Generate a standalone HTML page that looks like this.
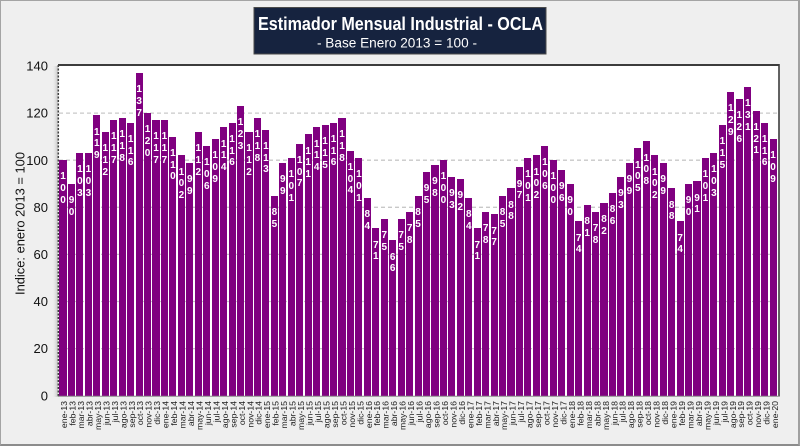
<!DOCTYPE html>
<html><head><meta charset="utf-8">
<style>
html,body{margin:0;padding:0}
body{width:800px;height:446px;overflow:hidden;background:#efefef;position:relative;font-family:"Liberation Sans",sans-serif}
#frame{position:absolute;left:0;top:0;width:800px;height:446px;box-sizing:border-box;border:1px solid #a4a4a4;border-bottom:2px solid #8c8c8c;border-right:2px solid #a0a0a0}
svg{position:absolute;left:0;top:0}
#plot{position:absolute;left:58.8px;top:66px;width:719.5px;height:329.7px;display:flex;align-items:flex-end}
.c{flex:0 0 8.465px;height:100%;display:flex;align-items:flex-end;justify-content:center}
.b{width:7.1px;flex:0 0 7.1px;height:calc(var(--v) * 2.355px);background:#800080;position:relative}
.b span{position:absolute;left:-1px;width:9.1px;top:11.3px;color:#fff;font:bold 10px/11.7px "Liberation Sans",sans-serif;text-align:center;word-break:break-all}
</style></head><body>
<div id="frame"></div>
<svg width="800" height="446">
<defs><linearGradient id="sh" x1="0" x2="1" y1="0" y2="0"><stop offset="0" stop-color="#efefef" stop-opacity="0"/><stop offset="1" stop-color="#b8b8b8"/></linearGradient></defs>
<rect x="52" y="66" width="6.5" height="331" fill="url(#sh)"/>
<rect x="58.3" y="65" width="720.7" height="331" fill="#ffffff"/>
<g stroke="#c8c8c8" stroke-width="1.3" stroke-dasharray="4,3">
<line x1="59" x2="778" y1="113.1" y2="113.1"/>
<line x1="59" x2="778" y1="160.2" y2="160.2"/>
<line x1="59" x2="778" y1="207.3" y2="207.3"/>
<line x1="59" x2="778" y1="254.4" y2="254.4"/>
<line x1="59" x2="778" y1="301.5" y2="301.5"/>
<line x1="59" x2="778" y1="348.6" y2="348.6"/>
</g>
</svg>
<div id="plot">
<div class="c"><div class="b" style="--v:100"><span>100</span></div></div>
<div class="c"><div class="b" style="--v:90"><span>90</span></div></div>
<div class="c"><div class="b" style="--v:103"><span>103</span></div></div>
<div class="c"><div class="b" style="--v:103"><span>103</span></div></div>
<div class="c"><div class="b" style="--v:119"><span>119</span></div></div>
<div class="c"><div class="b" style="--v:112"><span>112</span></div></div>
<div class="c"><div class="b" style="--v:117"><span>117</span></div></div>
<div class="c"><div class="b" style="--v:118"><span>118</span></div></div>
<div class="c"><div class="b" style="--v:116"><span>116</span></div></div>
<div class="c"><div class="b" style="--v:137"><span>137</span></div></div>
<div class="c"><div class="b" style="--v:120"><span>120</span></div></div>
<div class="c"><div class="b" style="--v:117"><span>117</span></div></div>
<div class="c"><div class="b" style="--v:117"><span>117</span></div></div>
<div class="c"><div class="b" style="--v:110"><span>110</span></div></div>
<div class="c"><div class="b" style="--v:102"><span>102</span></div></div>
<div class="c"><div class="b" style="--v:99"><span>99</span></div></div>
<div class="c"><div class="b" style="--v:112"><span>112</span></div></div>
<div class="c"><div class="b" style="--v:106"><span>106</span></div></div>
<div class="c"><div class="b" style="--v:109"><span>109</span></div></div>
<div class="c"><div class="b" style="--v:114"><span>114</span></div></div>
<div class="c"><div class="b" style="--v:116"><span>116</span></div></div>
<div class="c"><div class="b" style="--v:123"><span>123</span></div></div>
<div class="c"><div class="b" style="--v:112"><span>112</span></div></div>
<div class="c"><div class="b" style="--v:118"><span>118</span></div></div>
<div class="c"><div class="b" style="--v:113"><span>113</span></div></div>
<div class="c"><div class="b" style="--v:85"><span>85</span></div></div>
<div class="c"><div class="b" style="--v:99"><span>99</span></div></div>
<div class="c"><div class="b" style="--v:101"><span>101</span></div></div>
<div class="c"><div class="b" style="--v:107"><span>107</span></div></div>
<div class="c"><div class="b" style="--v:111"><span>111</span></div></div>
<div class="c"><div class="b" style="--v:114"><span>114</span></div></div>
<div class="c"><div class="b" style="--v:115"><span>115</span></div></div>
<div class="c"><div class="b" style="--v:116"><span>116</span></div></div>
<div class="c"><div class="b" style="--v:118"><span>118</span></div></div>
<div class="c"><div class="b" style="--v:104"><span>104</span></div></div>
<div class="c"><div class="b" style="--v:101"><span>101</span></div></div>
<div class="c"><div class="b" style="--v:84"><span>84</span></div></div>
<div class="c"><div class="b" style="--v:71"><span>71</span></div></div>
<div class="c"><div class="b" style="--v:75"><span>75</span></div></div>
<div class="c"><div class="b" style="--v:66"><span>66</span></div></div>
<div class="c"><div class="b" style="--v:75"><span>75</span></div></div>
<div class="c"><div class="b" style="--v:78"><span>78</span></div></div>
<div class="c"><div class="b" style="--v:85"><span>85</span></div></div>
<div class="c"><div class="b" style="--v:95"><span>95</span></div></div>
<div class="c"><div class="b" style="--v:98"><span>98</span></div></div>
<div class="c"><div class="b" style="--v:100"><span>100</span></div></div>
<div class="c"><div class="b" style="--v:93"><span>93</span></div></div>
<div class="c"><div class="b" style="--v:92"><span>92</span></div></div>
<div class="c"><div class="b" style="--v:84"><span>84</span></div></div>
<div class="c"><div class="b" style="--v:71"><span>71</span></div></div>
<div class="c"><div class="b" style="--v:78"><span>78</span></div></div>
<div class="c"><div class="b" style="--v:77"><span>77</span></div></div>
<div class="c"><div class="b" style="--v:85"><span>85</span></div></div>
<div class="c"><div class="b" style="--v:88"><span>88</span></div></div>
<div class="c"><div class="b" style="--v:97"><span>97</span></div></div>
<div class="c"><div class="b" style="--v:101"><span>101</span></div></div>
<div class="c"><div class="b" style="--v:102"><span>102</span></div></div>
<div class="c"><div class="b" style="--v:106"><span>106</span></div></div>
<div class="c"><div class="b" style="--v:100"><span>100</span></div></div>
<div class="c"><div class="b" style="--v:96"><span>96</span></div></div>
<div class="c"><div class="b" style="--v:90"><span>90</span></div></div>
<div class="c"><div class="b" style="--v:74"><span>74</span></div></div>
<div class="c"><div class="b" style="--v:81"><span>81</span></div></div>
<div class="c"><div class="b" style="--v:78"><span>78</span></div></div>
<div class="c"><div class="b" style="--v:82"><span>82</span></div></div>
<div class="c"><div class="b" style="--v:86"><span>86</span></div></div>
<div class="c"><div class="b" style="--v:93"><span>93</span></div></div>
<div class="c"><div class="b" style="--v:99"><span>99</span></div></div>
<div class="c"><div class="b" style="--v:105"><span>105</span></div></div>
<div class="c"><div class="b" style="--v:108"><span>108</span></div></div>
<div class="c"><div class="b" style="--v:102"><span>102</span></div></div>
<div class="c"><div class="b" style="--v:99"><span>99</span></div></div>
<div class="c"><div class="b" style="--v:88"><span>88</span></div></div>
<div class="c"><div class="b" style="--v:74"><span>74</span></div></div>
<div class="c"><div class="b" style="--v:90"><span>90</span></div></div>
<div class="c"><div class="b" style="--v:91"><span>91</span></div></div>
<div class="c"><div class="b" style="--v:101"><span>101</span></div></div>
<div class="c"><div class="b" style="--v:103"><span>103</span></div></div>
<div class="c"><div class="b" style="--v:115"><span>115</span></div></div>
<div class="c"><div class="b" style="--v:129"><span>129</span></div></div>
<div class="c"><div class="b" style="--v:126"><span>126</span></div></div>
<div class="c"><div class="b" style="--v:131"><span>131</span></div></div>
<div class="c"><div class="b" style="--v:121"><span>121</span></div></div>
<div class="c"><div class="b" style="--v:116"><span>116</span></div></div>
<div class="c"><div class="b" style="--v:109"><span>109</span></div></div>
</div>
<svg width="800" height="446">
<line x1="58" x2="779.5" y1="65" y2="65" stroke="#3c3c3c" stroke-width="2"/>
<line x1="779" x2="779" y1="64" y2="396.5" stroke="#3c3c3c" stroke-width="1.6"/>
<line x1="58.3" x2="58.3" y1="65" y2="396.5" stroke="#404040" stroke-width="1.5" stroke-dasharray="2,1.5"/>
<line x1="58" x2="779" y1="396.2" y2="396.2" stroke="#8a8a8a" stroke-width="1"/>
<g font-family="Liberation Sans, sans-serif" font-size="13" fill="#111" text-anchor="end">
<text x="48" y="70.6">140</text>
<text x="48" y="117.7">120</text>
<text x="48" y="164.8">100</text>
<text x="48" y="211.9">80</text>
<text x="48" y="259">60</text>
<text x="48" y="306.1">40</text>
<text x="48" y="353.2">20</text>
<text x="48" y="400.3">0</text>
</g>
<text transform="translate(24.5,223.5) rotate(-90)" text-anchor="middle" font-family="Liberation Sans, sans-serif" font-size="13" fill="#111" textLength="143" lengthAdjust="spacingAndGlyphs">Indice: enero 2013 = 100</text>
<rect x="254" y="7.5" width="292" height="46.5" fill="#16233f" stroke="#4a4a4a" stroke-width="1"/>
<text x="400.5" y="30" text-anchor="middle" font-family="Liberation Sans, sans-serif" font-weight="bold" font-size="18" fill="#ffffff" textLength="285" lengthAdjust="spacingAndGlyphs">Estimador Mensual Industrial - OCLA</text>
<text x="397" y="47.7" text-anchor="middle" font-family="Liberation Sans, sans-serif" font-size="13.5" fill="#ffffff" textLength="160" lengthAdjust="spacingAndGlyphs">- Base Enero 2013 = 100 -</text>
<g transform="translate(67.03,401)" font-family="Liberation Sans, sans-serif" font-size="8.7" fill="#1a1a1a" text-anchor="end">
<text transform="translate(0,0) rotate(-90)">ene-13</text>
<text transform="translate(8.47,0) rotate(-90)">feb-13</text>
<text transform="translate(16.93,0) rotate(-90)">mar-13</text>
<text transform="translate(25.4,0) rotate(-90)">abr-13</text>
<text transform="translate(33.86,0) rotate(-90)">may-13</text>
<text transform="translate(42.33,0) rotate(-90)">jun-13</text>
<text transform="translate(50.79,0) rotate(-90)">jul-13</text>
<text transform="translate(59.26,0) rotate(-90)">ago-13</text>
<text transform="translate(67.72,0) rotate(-90)">sep-13</text>
<text transform="translate(76.19,0) rotate(-90)">oct-13</text>
<text transform="translate(84.65,0) rotate(-90)">nov-13</text>
<text transform="translate(93.12,0) rotate(-90)">dic-13</text>
<text transform="translate(101.58,0) rotate(-90)">ene-14</text>
<text transform="translate(110.05,0) rotate(-90)">feb-14</text>
<text transform="translate(118.51,0) rotate(-90)">mar-14</text>
<text transform="translate(126.98,0) rotate(-90)">abr-14</text>
<text transform="translate(135.44,0) rotate(-90)">may-14</text>
<text transform="translate(143.91,0) rotate(-90)">jun-14</text>
<text transform="translate(152.37,0) rotate(-90)">jul-14</text>
<text transform="translate(160.84,0) rotate(-90)">ago-14</text>
<text transform="translate(169.3,0) rotate(-90)">sep-14</text>
<text transform="translate(177.77,0) rotate(-90)">oct-14</text>
<text transform="translate(186.23,0) rotate(-90)">nov-14</text>
<text transform="translate(194.7,0) rotate(-90)">dic-14</text>
<text transform="translate(203.16,0) rotate(-90)">ene-15</text>
<text transform="translate(211.63,0) rotate(-90)">feb-15</text>
<text transform="translate(220.09,0) rotate(-90)">mar-15</text>
<text transform="translate(228.56,0) rotate(-90)">abr-15</text>
<text transform="translate(237.02,0) rotate(-90)">may-15</text>
<text transform="translate(245.49,0) rotate(-90)">jun-15</text>
<text transform="translate(253.95,0) rotate(-90)">jul-15</text>
<text transform="translate(262.42,0) rotate(-90)">ago-15</text>
<text transform="translate(270.88,0) rotate(-90)">sep-15</text>
<text transform="translate(279.35,0) rotate(-90)">oct-15</text>
<text transform="translate(287.81,0) rotate(-90)">nov-15</text>
<text transform="translate(296.28,0) rotate(-90)">dic-15</text>
<text transform="translate(304.74,0) rotate(-90)">ene-16</text>
<text transform="translate(313.21,0) rotate(-90)">feb-16</text>
<text transform="translate(321.67,0) rotate(-90)">mar-16</text>
<text transform="translate(330.14,0) rotate(-90)">abr-16</text>
<text transform="translate(338.6,0) rotate(-90)">may-16</text>
<text transform="translate(347.07,0) rotate(-90)">jun-16</text>
<text transform="translate(355.53,0) rotate(-90)">jul-16</text>
<text transform="translate(364,0) rotate(-90)">ago-16</text>
<text transform="translate(372.46,0) rotate(-90)">sep-16</text>
<text transform="translate(380.93,0) rotate(-90)">oct-16</text>
<text transform="translate(389.39,0) rotate(-90)">nov-16</text>
<text transform="translate(397.86,0) rotate(-90)">dic-16</text>
<text transform="translate(406.32,0) rotate(-90)">ene-17</text>
<text transform="translate(414.79,0) rotate(-90)">feb-17</text>
<text transform="translate(423.25,0) rotate(-90)">mar-17</text>
<text transform="translate(431.72,0) rotate(-90)">abr-17</text>
<text transform="translate(440.18,0) rotate(-90)">may-17</text>
<text transform="translate(448.65,0) rotate(-90)">jun-17</text>
<text transform="translate(457.11,0) rotate(-90)">jul-17</text>
<text transform="translate(465.58,0) rotate(-90)">ago-17</text>
<text transform="translate(474.04,0) rotate(-90)">sep-17</text>
<text transform="translate(482.51,0) rotate(-90)">oct-17</text>
<text transform="translate(490.97,0) rotate(-90)">nov-17</text>
<text transform="translate(499.44,0) rotate(-90)">dic-17</text>
<text transform="translate(507.9,0) rotate(-90)">ene-18</text>
<text transform="translate(516.37,0) rotate(-90)">feb-18</text>
<text transform="translate(524.83,0) rotate(-90)">mar-18</text>
<text transform="translate(533.3,0) rotate(-90)">abr-18</text>
<text transform="translate(541.76,0) rotate(-90)">may-18</text>
<text transform="translate(550.23,0) rotate(-90)">jun-18</text>
<text transform="translate(558.69,0) rotate(-90)">jul-18</text>
<text transform="translate(567.16,0) rotate(-90)">ago-18</text>
<text transform="translate(575.62,0) rotate(-90)">sep-18</text>
<text transform="translate(584.09,0) rotate(-90)">oct-18</text>
<text transform="translate(592.55,0) rotate(-90)">nov-18</text>
<text transform="translate(601.02,0) rotate(-90)">dic-18</text>
<text transform="translate(609.48,0) rotate(-90)">ene-19</text>
<text transform="translate(617.95,0) rotate(-90)">feb-19</text>
<text transform="translate(626.41,0) rotate(-90)">mar-19</text>
<text transform="translate(634.88,0) rotate(-90)">abr-19</text>
<text transform="translate(643.34,0) rotate(-90)">may-19</text>
<text transform="translate(651.81,0) rotate(-90)">jun-19</text>
<text transform="translate(660.27,0) rotate(-90)">jul-19</text>
<text transform="translate(668.74,0) rotate(-90)">ago-19</text>
<text transform="translate(677.2,0) rotate(-90)">sep-19</text>
<text transform="translate(685.67,0) rotate(-90)">oct-19</text>
<text transform="translate(694.13,0) rotate(-90)">nov-19</text>
<text transform="translate(702.6,0) rotate(-90)">dic-19</text>
<text transform="translate(711.06,0) rotate(-90)">ene-20</text>
</g>
</svg>
</body></html>
